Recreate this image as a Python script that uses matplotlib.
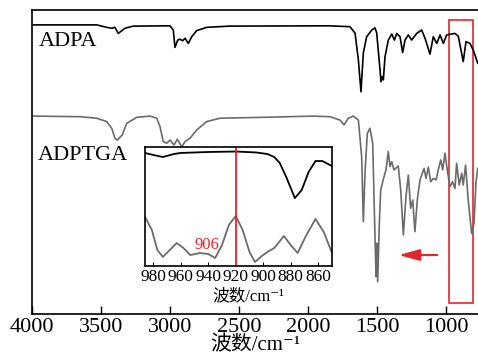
import matplotlib
matplotlib.use("Agg")
import matplotlib.pyplot as plt
from matplotlib.patches import Rectangle

# ---- main spectra (wavenumber cm^-1, transmittance-like a.u.) ----
adpa_wn = [3990, 3531, 3459, 3422, 3399, 3375, 3326, 3266, 3000, 2976, 2964, 2944, 2928,
           2908, 2891, 2867, 2843, 2807, 2734, 2565, 1841, 1696, 1659, 1635, 1616, 1599,
           1575, 1538, 1514, 1502, 1478, 1471, 1461, 1454, 1442, 1418, 1393, 1374, 1357,
           1333, 1314, 1297, 1273, 1249, 1212, 1176, 1152, 1116, 1092, 1067, 1043, 1019,
           995, 935, 911, 875, 855, 826, 802, 770]
adpa_t = [95.1, 95.1, 94.3, 94.0, 94.3, 92.3, 94.0, 94.7, 94.8, 93.4, 87.7, 90.1, 90.4,
          89.9, 90.7, 89.0, 91.2, 93.2, 94.3, 94.7, 94.8, 94.5, 92.4, 83.6, 73.1, 85.9,
          91.2, 93.4, 94.1, 92.4, 80.3, 76.4, 78.1, 77.0, 84.6, 90.1, 92.1, 90.1, 92.3,
          91.2, 86.0, 90.1, 91.8, 90.1, 92.3, 93.4, 90.7, 85.5, 91.2, 89.0, 91.8, 89.0,
          91.8, 92.3, 91.4, 83.0, 89.6, 89.0, 86.8, 82.5]

adptga_wn = [3990, 3652, 3531, 3459, 3422, 3399, 3382, 3346, 3314, 3241, 3145, 3096, 3072,
             3049, 3024, 3000, 2971, 2947, 2915, 2891, 2855, 2807, 2734, 2638, 2324, 1962,
             1841, 1768, 1739, 1708, 1672, 1635, 1611, 1599, 1587, 1570, 1551, 1531, 1520,
             1507, 1502, 1495, 1483, 1473, 1454, 1435, 1418, 1406, 1393, 1377, 1346, 1328,
             1309, 1290, 1273, 1256, 1241, 1225, 1208, 1188, 1159, 1145, 1128, 1111, 1092,
             1072, 1056, 1038, 1024, 1007, 991, 971, 952, 935, 923, 904, 886, 875, 858,
             839, 814, 797, 783, 770]
adptga_t = [65.1, 64.9, 64.4, 63.3, 61.1, 57.8, 57.2, 58.9, 62.7, 64.7, 65.1, 64.4, 61.6,
            56.7, 56.2, 57.2, 55.6, 57.5, 55.0, 56.7, 57.8, 60.5, 63.3, 64.4, 64.7, 65.1,
            64.9, 63.8, 62.2, 64.4, 65.1, 63.8, 51.7, 30.4, 46.3, 59.4, 61.1, 56.2, 35.3,
            12.3, 23.3, 10.6, 29.8, 40.8, 44.3, 47.4, 53.4, 48.5, 50.1, 47.4, 48.7, 40.8,
            26.0, 38.6, 45.7, 34.8, 37.5, 27.1, 37.5, 44.1, 47.9, 44.6, 48.3, 43.5, 44.6,
            44.1, 47.4, 50.7, 47.4, 52.9, 47.4, 41.9, 43.5, 41.3, 49.6, 42.4, 46.3, 42.4,
            49.0, 37.5, 26.5, 29.8, 43.0, 47.9]

# ---- inset (zoom 986-850 cm^-1) ----
ins_adpa_wn = [986, 980, 973, 965, 960, 940, 920, 905, 897, 892, 888, 883, 877, 872, 867,
               862, 857, 850]
ins_adpa_t = [95.0, 93.3, 91.6, 94.1, 95.0, 95.8, 96.2, 95.4, 94.1, 91.6, 86.6, 74.0, 57.1,
              63.9, 79.0, 88.2, 88.2, 84.0]
ins_adptga_wn = [986, 981, 977, 973, 968, 963, 958, 953, 946, 940, 935, 930, 925, 920, 915,
                 910, 906, 901, 897, 892, 885, 880, 875, 869, 862, 856, 850]
ins_adptga_t = [41.2, 30.3, 13.4, 7.6, 13.4, 19.3, 15.1, 9.2, 10.9, 10.1, 6.7, 17.6, 34.5,
                42.0, 30.3, 11.8, 3.4, 8.4, 11.8, 15.1, 25.2, 17.6, 10.9, 25.2, 39.5, 28.6,
                10.9]

main_ticks = [4000, 3500, 3000, 2500, 2000, 1500, 1000]
inset_ticks = [980, 960, 940, 920, 900, 880, 860]
marker_wn = 920
marker_label = "906"
box_wn = (978, 804)
arrow_wn = (1043, 1362)

SERIF = ['Liberation Serif', 'Noto Sans CJK SC', 'DejaVu Sans']
plt.rcParams['font.family'] = SERIF

BLACK = '#000000'
GRAY = '#6b6b6b'
RED = '#e3262b'

fig = plt.figure(figsize=(4.78, 3.62), dpi=100)
ax = fig.add_axes([32/478, 1-314/362, (478-32)/478, (314-10)/362])
ax.plot(adpa_wn, adpa_t, color=BLACK, lw=1.2)
ax.plot(adptga_wn, adptga_t, color=GRAY, lw=1.2)
ax.set_xlim(4000, 768)
ax.set_ylim(0, 100)
ax.set_xticks(main_ticks)
ax.set_xticklabels([str(t) for t in main_ticks])
ax.set_yticks([])
ax.tick_params(axis='x', direction='in', length=6, width=1, labelsize=16, pad=3)
ax.spines['right'].set_visible(False)
for s in ['left', 'top', 'bottom']:
    ax.spines[s].set_linewidth(1.2)
ax.set_xlabel('波数/cm⁻¹', fontsize=15, labelpad=-1)

ax.text(3950, 89.5, 'ADPA', fontsize=16, ha='left', va='center')
ax.text(3960, 52.3, 'ADPTGA', fontsize=16, ha='left', va='center')

ax.add_patch(Rectangle((box_wn[0], 3.6), box_wn[1]-box_wn[0], 96.7-3.6,
                       fill=False, edgecolor=RED, lw=1.2))
ax.annotate('', xy=(arrow_wn[1], 19.4), xytext=(arrow_wn[0], 19.4),
            arrowprops=dict(arrowstyle='-|>,head_length=0.9,head_width=0.25',
                            color=RED, lw=1.5, mutation_scale=14))

ins = fig.add_axes([145/478, 1-266/362, (332-145)/478, (266-147)/362])
ins.plot(ins_adpa_wn, ins_adpa_t, color=BLACK, lw=1.3)
ins.plot(ins_adptga_wn, ins_adptga_t, color=GRAY, lw=1.3)
ins.axvline(marker_wn, color=RED, lw=1.3)
ins.set_xlim(986, 850)
ins.set_ylim(0, 100)
ins.set_xticks(inset_ticks)
ins.set_xticklabels([str(t) for t in inset_ticks])
ins.set_yticks([])
ins.tick_params(axis='x', direction='in', length=3, labelsize=12.5, pad=2)
for s in ins.spines.values():
    s.set_linewidth(1.2)
ins.set_xlabel('波数/cm⁻¹', fontsize=12)
ins.xaxis.set_label_coords(0.55, -0.19)
ins.text(941, 17.6, marker_label, color=RED, fontsize=12, ha='center', va='center')

fig.savefig('out.png', dpi=100)
